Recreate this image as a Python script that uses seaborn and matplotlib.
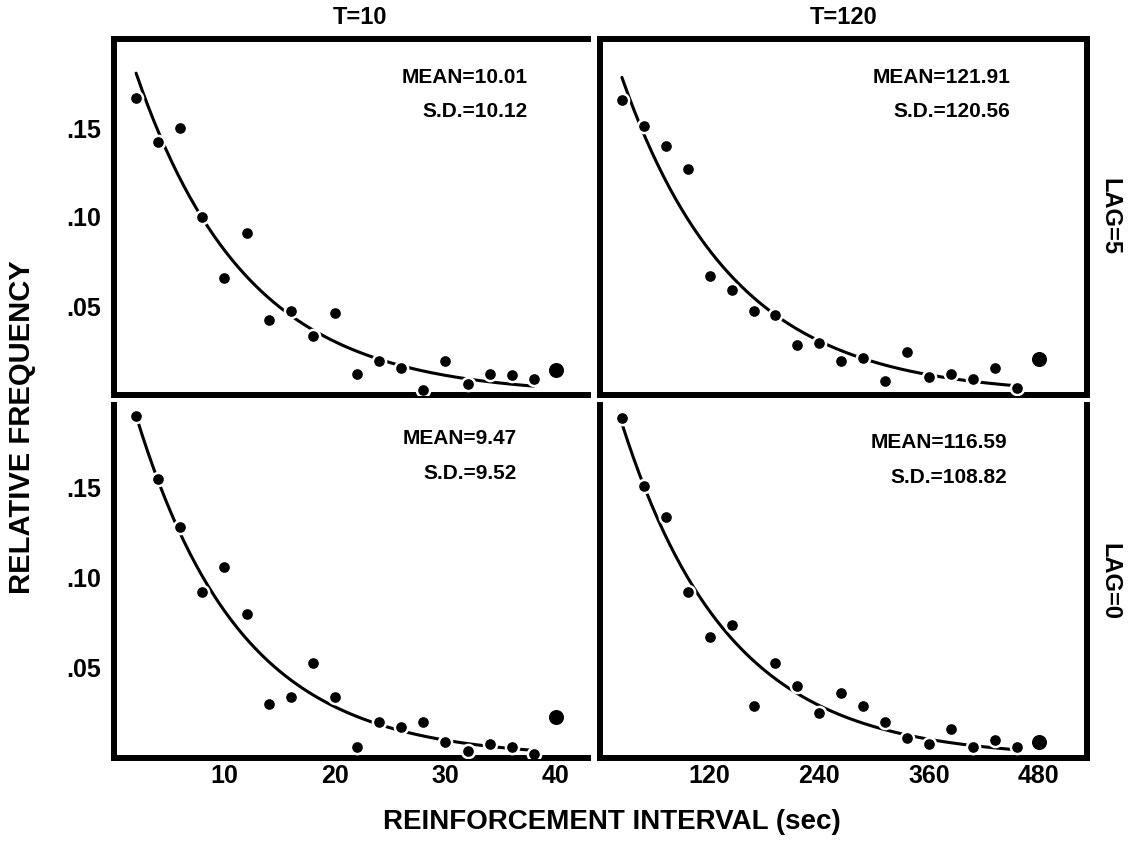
import numpy as np
import pandas as pd
import matplotlib.pyplot as plt
import seaborn as sns

# reinforcement interval bins (sec)
t10_bins = [2, 4, 6, 8, 10, 12, 14, 16, 18, 20, 22, 24, 26, 28, 30, 32, 34, 36, 38, 40]
t120_bins = [24, 48, 72, 96, 120, 144, 168, 192, 216, 240, 264, 288, 312, 336, 360, 384, 408, 432, 456, 480]

# relative frequencies
lag5_t10 = [0.167, 0.142, 0.150, 0.100, 0.066, 0.091, 0.042, 0.047, 0.033, 0.046,
            0.012, 0.019, 0.015, 0.003, 0.019, 0.006, 0.012, 0.011, 0.009, 0.014]
lag5_t120 = [0.166, 0.151, 0.140, 0.127, 0.067, 0.059, 0.047, 0.045, 0.028, 0.029,
             0.019, 0.021, 0.008, 0.024, 0.010, 0.012, 0.009, 0.015, 0.004, 0.020]
lag0_t10 = [0.190, 0.155, 0.128, 0.092, 0.106, 0.080, 0.030, 0.034, 0.053, 0.034,
            0.006, 0.020, 0.017, 0.020, 0.009, 0.004, 0.008, 0.006, 0.002, 0.023]
lag0_t120 = [0.189, 0.151, 0.134, 0.092, 0.067, 0.074, 0.029, 0.053, 0.040, 0.025,
             0.036, 0.029, 0.020, 0.011, 0.008, 0.016, 0.006, 0.010, 0.006, 0.009]

means = {"lag5_t10": 10.01, "lag5_t120": 121.91, "lag0_t10": 9.47, "lag0_t120": 116.59}
sds = {"lag5_t10": 10.12, "lag5_t120": 120.56, "lag0_t10": 9.52, "lag0_t120": 108.82}

col_titles = ["T=10", "T=120"]
row_titles = ["LAG=5", "LAG=0"]
t10_ticks = [10, 20, 30, 40]
t120_ticks = [120, 240, 360, 480]
y_ticks = [0.05, 0.10, 0.15]
y_ticklabels = [".05", ".10", ".15"]

sns.set_theme(style="white")
plt.rcParams["font.family"] = ["Liberation Sans", "DejaVu Sans"]
plt.rcParams["font.weight"] = "bold"
plt.rcParams["text.color"] = "black"
plt.rcParams["xtick.color"] = "black"
plt.rcParams["ytick.color"] = "black"

fig = plt.figure(figsize=(11.33, 8.44), dpi=100)
W, H = 1133, 844

def place(x0, y0, x1, y1):
    return fig.add_axes([x0 / W, 1 - y1 / H, (x1 - x0) / W, (y1 - y0) / H])

axes = {
    "lag5_t10": place(114, 39, 588, 395),
    "lag5_t120": place(600, 39, 1087, 395),
    "lag0_t10": place(114, 405, 588, 758),
    "lag0_t120": place(600, 405, 1087, 758),
}
series = {"lag5_t10": lag5_t10, "lag5_t120": lag5_t120,
          "lag0_t10": lag0_t10, "lag0_t120": lag0_t120}
# where the MEAN / S.D. text sits (axes fraction: right x, mean y, sd y)
note_pos = {"lag5_t10": (0.873, 0.893, 0.795), "lag5_t120": (0.842, 0.893, 0.795),
            "lag0_t10": (0.850, 0.906, 0.807), "lag0_t120": (0.836, 0.895, 0.796)}

for key, ax in axes.items():
    is_t10 = key.endswith("t10")
    bins = t10_bins if is_t10 else t120_bins
    ys = series[key]
    width = bins[1] - bins[0]
    mean = means[key]

    # fitted exponential
    xs = np.linspace(bins[0], bins[-2], 200)
    fit = width / mean * np.exp(-(xs - width / 2) / mean)
    sns.lineplot(x=xs, y=fit, color="black", lw=2.2, ax=ax, zorder=2)

    df = pd.DataFrame({"x": bins, "y": ys})
    sns.scatterplot(data=df.iloc[:-1], x="x", y="y", s=90, color="black",
                    edgecolor="white", linewidth=1.8, ax=ax, zorder=3)
    sns.scatterplot(data=df.iloc[-1:], x="x", y="y", s=160, color="black",
                    edgecolor="white", linewidth=1.8, ax=ax, zorder=3)

    ax.set_xlim(0, 42.9 if is_t10 else 533)
    ax.set_ylim(0, 0.2 if key.startswith("lag5") else 0.196)
    ax.set_xticks(t10_ticks if is_t10 else t120_ticks)
    ax.set_yticks(y_ticks)
    ax.set_xlabel("")
    ax.set_ylabel("")
    ax.tick_params(direction="in", length=10, width=2.2, labelsize=18)
    ax.tick_params(axis="x", pad=4)
    ax.tick_params(axis="y", pad=9)

    if key.startswith("lag0"):
        ax.set_xticklabels([str(t) for t in (t10_ticks if is_t10 else t120_ticks)],
                           fontweight="bold")
    else:
        ax.set_xticklabels([])
    if is_t10:
        ax.set_yticklabels(y_ticklabels, fontweight="bold")
    else:
        ax.set_yticklabels([])

    for s in ax.spines.values():
        s.set_linewidth(4.3)
        s.set_color("black")
    if key == "lag5_t10":
        ax.spines["right"].set_visible(False)
    elif key == "lag0_t10":
        ax.spines["right"].set_visible(False)
        ax.spines["top"].set_visible(False)
    elif key == "lag0_t120":
        ax.spines["top"].set_visible(False)

    nx, my, sy = note_pos[key]
    ax.text(nx, my, f"MEAN={mean:.2f}", transform=ax.transAxes, ha="right",
            va="center", fontsize=15, fontweight="heavy")
    ax.text(nx, sy, f"S.D.={sds[key]:.2f}", transform=ax.transAxes, ha="right",
            va="center", fontsize=15, fontweight="heavy")

# column and row titles
axes["lag5_t10"].set_title(col_titles[0], fontsize=17, fontweight="bold", pad=11, x=0.519)
axes["lag5_t120"].set_title(col_titles[1], fontsize=17, fontweight="bold", pad=11)
axes["lag5_t120"].text(1.047, 0.5, row_titles[0], transform=axes["lag5_t120"].transAxes,
                       rotation=-90, ha="center", va="center", fontsize=17, fontweight="bold")
axes["lag0_t120"].text(1.047, 0.5, row_titles[1], transform=axes["lag0_t120"].transAxes,
                       rotation=-90, ha="center", va="center", fontsize=17, fontweight="bold")

fig.text(22 / W, 1 - 427 / H, "RELATIVE FREQUENCY", rotation=90, ha="center",
         va="center", fontsize=21, fontweight="bold")
fig.text(612 / W, 1 - 822 / H, "REINFORCEMENT INTERVAL (sec)", ha="center",
         va="center", fontsize=20, fontweight="bold")

fig.savefig("out.png", dpi=100)
